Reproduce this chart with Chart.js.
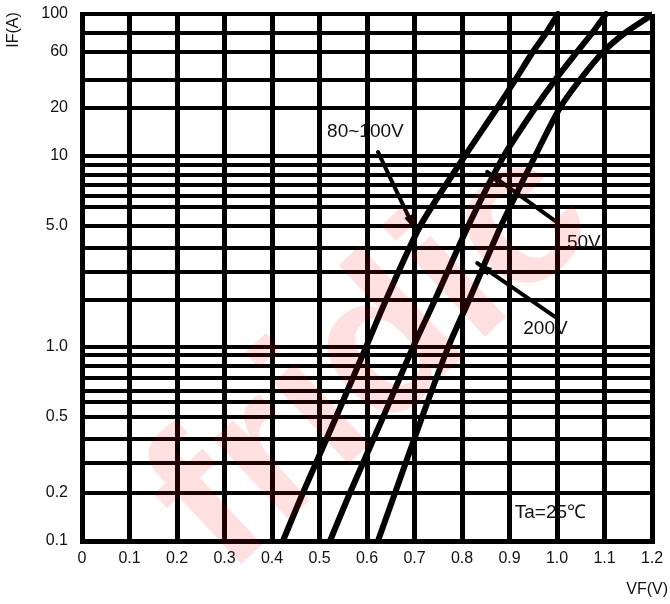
<!DOCTYPE html>
<html>
<head>
<meta charset="utf-8">
<script src="https://cdn.jsdelivr.net/npm/chart.js@4.4.1/dist/chart.umd.min.js"></script>
<style>
  html, body { margin: 0; padding: 0; background: #fff; }
  #grafico { display: block; }
</style>
</head>
<body>
<canvas id="grafico" width="670" height="604"></canvas>
<script>
// ── DATOS LEIDOS DE LA CURVA IF-VF ─────────────────────────────
// niveles de corriente IF (A) donde se leyó cada curva
const nivelesIF = [0.1, 0.2, 0.5, 1, 2, 5, 10, 20, 40, 60, 80, 100];
// tensión VF (V) de cada curva en esos niveles
const vf80a100V = [0.423, 0.465, 0.535, 0.598, 0.640, 0.712, 0.806, 0.874, 0.912, 0.949, 0.977, 1.002];
const vf50V     = [0.522, 0.564, 0.634, 0.697, 0.743, 0.813, 0.888, 0.954, 0.996, 1.042, 1.074, 1.103];
const vf200V    = [0.623, 0.659, 0.716, 0.771, 0.815, 0.882, 0.954, 1.006, 1.048, 1.097, 1.143, 1.203];

const ticksX = [0, 0.1, 0.2, 0.3, 0.4, 0.5, 0.6, 0.7, 0.8, 0.9, 1.0, 1.1, 1.2];
// líneas horizontales del papel (IF) y las que llevan rótulo
const lineasY = [0.1, 0.2, 0.3, 0.4, 0.5, 0.55, 0.6, 0.7, 0.8, 0.9, 1, 2, 3, 4, 5, 5.5, 6, 7, 8, 9, 10, 20, 40, 60, 80, 100];
const rotulosY = [0.1, 0.2, 0.5, 1, 5, 10, 20, 60, 100];

// rótulos y flechas del gráfico (en unidades VF, IF)
const notas = [
    { texto: '80~100V', x: 0.516, y: 14.1 },
    { texto: '50V',     x: 1.021, y: 4.2 },
    { texto: '200V',    x: 0.929, y: 1.3 },
    { texto: 'Ta=25℃',  x: 0.911, y: 0.15 }
];
const flechas = [
    { desde: [0.623, 10.6], hasta: [0.701, 4.8] },
    { desde: [0.996, 5.13], hasta: [0.853, 8.3] },
    { desde: [0.996, 1.56], hasta: [0.832, 3.34] }
];

// El papel original no es log puro: altura de cada línea (px desde abajo, de 527)
const alturaPapel = [0, 48, 78, 102, 124, 139, 150, 163, 175, 186, 194, 241, 269, 293, 315, 334, 345, 356, 366, 376, 385, 433, 461, 489, 508, 527];

function fraccionPapel(v) {
    if (v <= lineasY[0]) return 0;
    const n = lineasY.length - 1;
    if (v >= lineasY[n]) return 1;
    let i = 0;
    while (lineasY[i + 1] < v) i++;
    const a = Math.log10(lineasY[i]), b = Math.log10(lineasY[i + 1]);
    const t = (Math.log10(v) - a) / (b - a);
    return (alturaPapel[i] + t * (alturaPapel[i + 1] - alturaPapel[i])) / alturaPapel[n];
}

class EscalaPapel extends Chart.LinearScale {
    determineDataLimits() {
        this.min = lineasY[0];
        this.max = lineasY[lineasY.length - 1];
    }
    buildTicks() {
        return lineasY.map(v => ({ value: v }));
    }
    getPixelForValue(v) {
        return this.getPixelForDecimal(fraccionPapel(v));
    }
    getValueForPixel(p) {
        const d = this.getDecimalForPixel(p) * alturaPapel[alturaPapel.length - 1];
        let i = 0;
        while (i < alturaPapel.length - 2 && alturaPapel[i + 1] < d) i++;
        const t = (d - alturaPapel[i]) / (alturaPapel[i + 1] - alturaPapel[i]);
        const a = Math.log10(lineasY[i]), b = Math.log10(lineasY[i + 1]);
        return Math.pow(10, a + t * (b - a));
    }
}
EscalaPapel.id = 'papel';
EscalaPapel.defaults = {};
Chart.register(EscalaPapel);

const curva = vf => vf.map((x, i) => ({ x, y: nivelesIF[i] }));
const fuente = '"Liberation Sans", Arial, sans-serif';

const pluginTextos = {
    id: 'textos',
    afterDatasetsDraw(chart) {
        const { ctx, scales: { x, y } } = chart;
        ctx.save();
        ctx.fillStyle = '#111';
        ctx.font = '19px ' + fuente;
        ctx.textAlign = 'left';
        ctx.textBaseline = 'middle';
        notas.forEach(n => {
            ctx.fillText(n.texto, x.getPixelForValue(n.x), y.getPixelForValue(n.y));
        });

        ctx.strokeStyle = '#000';
        ctx.fillStyle = '#000';
        ctx.lineWidth = 4;
        ctx.lineCap = 'round';
        flechas.forEach(f => {
            const x1 = x.getPixelForValue(f.desde[0]), y1 = y.getPixelForValue(f.desde[1]);
            const x2 = x.getPixelForValue(f.hasta[0]), y2 = y.getPixelForValue(f.hasta[1]);
            ctx.beginPath();
            ctx.moveTo(x1, y1);
            ctx.lineTo(x2, y2);
            ctx.stroke();
            const ang = Math.atan2(y2 - y1, x2 - x1);
            ctx.beginPath();
            ctx.moveTo(x2, y2);
            ctx.lineTo(x2 - 16 * Math.cos(ang - 0.28), y2 - 16 * Math.sin(ang - 0.28));
            ctx.lineTo(x2 - 16 * Math.cos(ang + 0.28), y2 - 16 * Math.sin(ang + 0.28));
            ctx.closePath();
            ctx.fill();
        });

        // títulos de ejes
        ctx.fillStyle = '#111';
        ctx.font = '16px ' + fuente;
        ctx.textAlign = 'right';
        ctx.fillText('VF(V)', 668, 590);
        ctx.translate(14, 30);
        ctx.rotate(-Math.PI / 2);
        ctx.textAlign = 'center';
        ctx.fillText('IF(A)', 0, 0);
        ctx.restore();
    },
    afterDraw(chart) {
        // marca de agua rosada
        const ctx = chart.ctx;
        ctx.save();
        ctx.translate(375, 360);
        ctx.rotate(-43 * Math.PI / 180);
        ctx.font = 'bold 210px ' + fuente;
        ctx.fillStyle = 'rgba(255, 0, 0, 0.12)';
        ctx.textAlign = 'center';
        ctx.textBaseline = 'middle';
        ctx.fillText('fridic', 0, 0);
        ctx.restore();
    }
};

const estiloCurva = {
    borderColor: '#000',
    borderWidth: 6,
    pointRadius: 0,
    tension: 0.25,
    borderCapStyle: 'round',
    fill: false
};

new Chart(document.getElementById('grafico'), {
    type: 'line',
    data: {
        datasets: [
            { label: '80~100V', data: curva(vf80a100V), ...estiloCurva },
            { label: '50V',     data: curva(vf50V),     ...estiloCurva },
            { label: '200V',    data: curva(vf200V),    ...estiloCurva }
        ]
    },
    options: {
        responsive: false,
        devicePixelRatio: 1,
        animation: false,
        layout: { padding: { top: 14, right: 18, left: 0, bottom: 0 } },
        plugins: { legend: { display: false }, tooltip: { enabled: false } },
        scales: {
            x: {
                type: 'linear',
                min: 0,
                max: 1.2,
                afterBuildTicks: s => { s.ticks = ticksX.map(v => ({ value: v })); },
                afterFit: s => { s.height = 63; s.paddingLeft = 0; s.paddingRight = 0; },
                ticks: {
                    autoSkip: false,
                    maxRotation: 0,
                    padding: 8,
                    color: '#111',
                    font: { family: fuente, size: 16 },
                    callback: v => v === 0 ? '0' : v.toFixed(1)
                },
                grid: { color: '#000', lineWidth: 5, drawTicks: false },
                border: { color: '#000', width: 5 }
            },
            y: {
                type: 'papel',
                position: 'left',
                afterFit: s => { s.width = 82; s.paddingTop = 0; s.paddingBottom = 0; },
                ticks: {
                    autoSkip: false,
                    padding: 14,
                    color: '#111',
                    font: { family: fuente, size: 16 },
                    callback: v => rotulosY.includes(v) ? (v >= 10 ? String(v) : v.toFixed(1)) : ''
                },
                grid: { color: '#000', lineWidth: 4, drawTicks: false },
                border: { color: '#000', width: 5 }
            }
        }
    },
    plugins: [pluginTextos]
});
</script>
</body>
</html>
